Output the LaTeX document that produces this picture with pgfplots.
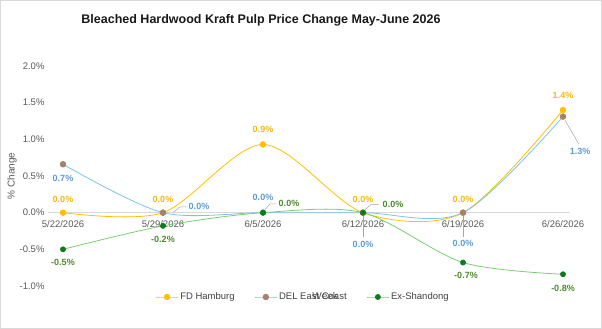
\documentclass[border=0pt]{standalone}
\usepackage{fontspec}
\setmainfont{Liberation Sans}
\usepackage{pgfplots}
\pgfplotsset{compat=1.18}
\definecolor{gold}{HTML}{FFC000}
\definecolor{goldlab}{HTML}{F5BA00}
\definecolor{blueline}{HTML}{7CC3E8}
\definecolor{bluelab}{HTML}{5B9BD5}
\definecolor{brownmk}{HTML}{A5826B}
\definecolor{greenline}{HTML}{79CF6E}
\definecolor{greenmk}{HTML}{0E7A1E}
\definecolor{greenlab}{HTML}{4C8A2C}
\definecolor{tickgray}{HTML}{595959}
\definecolor{zerogray}{HTML}{D9D9D9}
\definecolor{leadgray}{HTML}{A6A6A6}
\begin{document}
\begin{tikzpicture}
\begin{axis}[
  scale only axis, width=522pt, height=220pt,
  xmin=-0.15, xmax=5.07, ymin=-1, ymax=2,
  axis x line=middle, axis y line=left,
  hide obscured x ticks=false, hide obscured y ticks=false,
  x axis line style={draw=zerogray, line width=0.8pt, -},
  y axis line style={draw=none},
  major tick length=0pt,
  xtick={0,1,2,3,4,5},
  xticklabels={5/22/2026,5/29/2026,6/5/2026,6/12/2026,6/19/2026,6/26/2026},
  ytick={-1,-0.5,0,0.5,1,1.5,2},
  yticklabels={-1.0\%,-0.5\%,0.0\%,0.5\%,1.0\%,1.5\%,2.0\%},
  ticklabel style={font=\fontsize{9.5}{11}\selectfont, text=tickgray},
  xticklabel style={yshift=-4pt},
  clip=false,
  legend columns=3,
  legend style={at={(axis description cs:0.489,-0.05)}, anchor=center, draw=none, fill=none,
    font=\fontsize{9.5}{11}\selectfont, text=black!75,
    /tikz/every even column/.append style={column sep=18pt}},
  legend image code/.code={\draw[#1, mark repeat=2, mark phase=2] plot coordinates {(0cm,0cm) (0.38cm,0cm) (0.76cm,0cm)};},
]
\addplot[gold, line width=0.8pt, smooth, tension=0.5, mark=*, mark size=2.8pt, mark options={fill=gold, draw=gold}]
  coordinates {(0,0) (1,0) (2,0.93) (3,0) (4,0) (5,1.40)};
\addlegendentry{FD Hamburg}
\addplot[blueline, line width=0.8pt, smooth, tension=0.5, mark=*, mark size=2.8pt, mark options={fill=brownmk, draw=brownmk}]
  coordinates {(0,0.66) (1,0) (2,0) (3,0) (4,0) (5,1.31)};
\addlegendentry{DEL East Coast}
\addplot[greenline, line width=0.8pt, smooth, tension=0.5, mark=*, mark size=2.5pt, mark options={fill=greenmk, draw=greenmk}]
  coordinates {(0,-0.50) (1,-0.18) (2,0) (3,0) (4,-0.68) (5,-0.84)};
\addlegendentry{Ex-Shandong}
% leader lines
\draw[leadgray, line width=0.5pt] (axis cs:1.10,0.0) -- (axis cs:1.17,0.08) -- (axis cs:1.24,0.08);
\draw[leadgray, line width=0.5pt] (axis cs:2.02,0.04) -- (axis cs:2.07,0.12) -- (axis cs:2.13,0.12);
\draw[leadgray, line width=0.5pt] (axis cs:3.02,0.04) -- (axis cs:3.08,0.11) -- (axis cs:3.16,0.11);
\draw[leadgray, line width=0.5pt] (axis cs:3,-0.05) -- (axis cs:3,-0.33);
\draw[leadgray, line width=0.5pt] (axis cs:4,-0.05) -- (axis cs:4,-0.33);
\draw[leadgray, line width=0.5pt] (axis cs:5.02,1.26) -- (axis cs:5.16,0.93);
% data labels
\begin{scope}[every node/.style={font=\bfseries\fontsize{9}{10}\selectfont, inner sep=0pt}]
\node[text=goldlab] at (axis cs:0,0.177) {0.0\%};
\node[text=goldlab] at (axis cs:1,0.177) {0.0\%};
\node[text=goldlab] at (axis cs:2,1.132) {0.9\%};
\node[text=goldlab] at (axis cs:3,0.177) {0.0\%};
\node[text=goldlab] at (axis cs:4,0.177) {0.0\%};
\node[text=goldlab] at (axis cs:5,1.595) {1.4\%};
\node[text=bluelab] at (axis cs:0,0.464) {0.7\%};
\node[text=bluelab] at (axis cs:1.36,0.082) {0.0\%};
\node[text=bluelab] at (axis cs:2,0.205) {0.0\%};
\node[text=bluelab] at (axis cs:3,-0.436) {0.0\%};
\node[text=bluelab] at (axis cs:4,-0.423) {0.0\%};
\node[text=bluelab] at (axis cs:5.17,0.832) {1.3\%};
\node[text=greenlab] at (axis cs:0,-0.682) {-0.5\%};
\node[text=greenlab] at (axis cs:1,-0.368) {-0.2\%};
\node[text=greenlab] at (axis cs:2.26,0.123) {0.0\%};
\node[text=greenlab] at (axis cs:3.30,0.109) {0.0\%};
\node[text=greenlab] at (axis cs:4.03,-0.859) {-0.7\%};
\node[text=greenlab] at (axis cs:5,-1.036) {-0.8\%};
\end{scope}
\node[rotate=90, text=tickgray, font=\fontsize{10}{12}\selectfont] at (axis description cs:-0.069,0.5) {\% Change};
\node[text=tickgray, font=\fontsize{10}{12}\selectfont] at (axis description cs:0.531,-0.045) {Week};
\end{axis}
\node[font=\bfseries\fontsize{12.5}{14}\selectfont, text=black!90] at (213pt,266pt) {Bleached Hardwood Kraft Pulp Price Change May-June 2026};
\draw[black!15, line width=0.8pt] (-47.6pt,-42.6pt) rectangle (553.6pt,285.6pt);
\pgfresetboundingbox
\path[use as bounding box] (-48pt,-43pt) rectangle (554pt,286pt);
\end{tikzpicture}
\end{document}
